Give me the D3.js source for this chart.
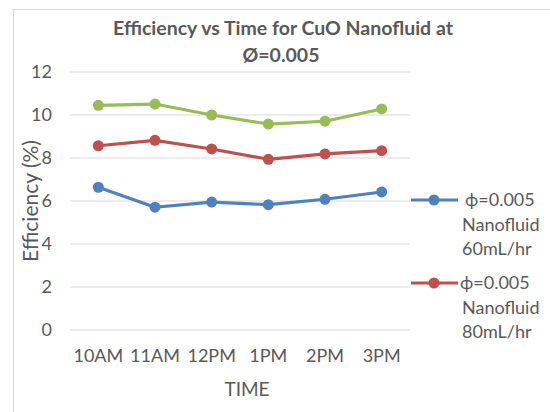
<!DOCTYPE html>
<html>
<head>
<meta charset="utf-8">
<script src="https://cdn.jsdelivr.net/npm/d3@7"></script>
<style>
  body { margin: 0; background: #fff; }
  text { font-family: Lato, "Open Sans", sans-serif; fill: #595959; }
</style>
</head>
<body>
<div id="viz"></div>
<script>
// Data
const times = ['10AM', '11AM', '12PM', '1PM', '2PM', '3PM'];
const blue60 = [6.64, 5.71, 5.95, 5.83, 6.08, 6.42];
const red80 = [8.57, 8.82, 8.42, 7.94, 8.19, 8.34];
const green = [10.45, 10.51, 10.0, 9.58, 9.71, 10.28];
const yTicks = [0, 2, 4, 6, 8, 10, 12];

const series = [
  { name: ['ϕ=0.005', 'Nanofluid', '60mL/hr'], values: blue60, color: '#4f81bd', legend: true },
  { name: ['ϕ=0.005', 'Nanofluid', '80mL/hr'], values: red80, color: '#c0504d', legend: true },
  { name: ['green'], values: green, color: '#9bbb59', legend: false }
];

const W = 550, H = 412;
const plot = { left: 70, right: 410, top: 72, bottom: 330 };

const svg = d3.select('#viz').append('svg')
  .attr('width', W)
  .attr('height', H);

// Chart frame (cut off at right/bottom)
svg.append('rect')
  .attr('x', 13.5).attr('y', 9.5)
  .attr('width', 600).attr('height', 500)
  .attr('fill', 'none')
  .attr('stroke', '#d9d9d9');

// Scales
const x = d3.scaleBand().domain(times).range([plot.left, plot.right]);
const y = d3.scaleLinear().domain([0, 12]).range([plot.bottom, plot.top]);

// Gridlines
svg.append('g')
  .selectAll('line')
  .data(yTicks)
  .enter()
  .append('line')
  .attr('x1', plot.left).attr('x2', plot.right)
  .attr('y1', d => y(d)).attr('y2', d => y(d))
  .attr('stroke', '#d9d9d9')
  .attr('stroke-width', 1);

// Y tick labels
svg.append('g')
  .selectAll('text')
  .data(yTicks)
  .enter()
  .append('text')
  .attr('x', 52)
  .attr('y', d => y(d))
  .attr('dy', '0.35em')
  .attr('text-anchor', 'end')
  .style('font-size', '18px')
  .text(d => d);

// X tick labels
svg.append('g')
  .selectAll('text')
  .data(times)
  .enter()
  .append('text')
  .attr('x', d => x(d) + x.bandwidth() / 2)
  .attr('y', 356)
  .attr('dy', '0.35em')
  .attr('text-anchor', 'middle')
  .style('font-size', '18px')
  .text(d => d);

// Axis titles
svg.append('text')
  .attr('x', 247).attr('y', 389)
  .attr('dy', '0.35em')
  .attr('text-anchor', 'middle')
  .style('font-size', '19px')
  .text('TIME');

svg.append('text')
  .attr('transform', 'translate(31,201) rotate(-90)')
  .attr('dy', '0.35em')
  .attr('text-anchor', 'middle')
  .style('font-size', '21px')
  .text('Efficiency (%)');

// Title
const title = svg.append('text')
  .attr('text-anchor', 'middle')
  .style('font-size', '19.5px')
  .style('font-weight', 'bold');
title.append('tspan').attr('x', 283).attr('y', 28).attr('dy', '0.35em')
  .text('Efficiency vs Time for CuO Nanofluid at');
title.append('tspan').attr('x', 281).attr('y', 55).attr('dy', '0.35em')
  .text('Ø=0.005');

// Lines and markers
const line = d3.line()
  .x((d, i) => x(times[i]) + x.bandwidth() / 2)
  .y(d => y(d));

series.slice().reverse().forEach(s => {
  const g = svg.append('g');
  g.append('path')
    .datum(s.values)
    .attr('d', line)
    .attr('fill', 'none')
    .attr('stroke', s.color)
    .attr('stroke-width', 3.2)
    .attr('stroke-linejoin', 'round');
  g.selectAll('circle')
    .data(s.values)
    .enter()
    .append('circle')
    .attr('cx', (d, i) => x(times[i]) + x.bandwidth() / 2)
    .attr('cy', d => y(d))
    .attr('r', 5.5)
    .attr('fill', s.color);
});

// Legend
const legendY = [200, 283];
series.filter(s => s.legend).forEach((s, i) => {
  const g = svg.append('g').attr('transform', `translate(0,${legendY[i]})`);
  g.append('line')
    .attr('x1', 411).attr('x2', 458)
    .attr('y1', 0).attr('y2', 0)
    .attr('stroke', s.color)
    .attr('stroke-width', 3.2);
  g.append('circle')
    .attr('cx', 434).attr('cy', 0)
    .attr('r', 5.5)
    .attr('fill', s.color);
  s.name.forEach((t, j) => {
    g.append('text')
      .attr('x', j === 0 ? (i === 0 ? 465 : 460) : 462)
      .attr('y', j * 24.5)
      .attr('dy', '0.35em')
      .style('font-size', '18px')
      .text(t);
  });
});
</script>
</body>
</html>
